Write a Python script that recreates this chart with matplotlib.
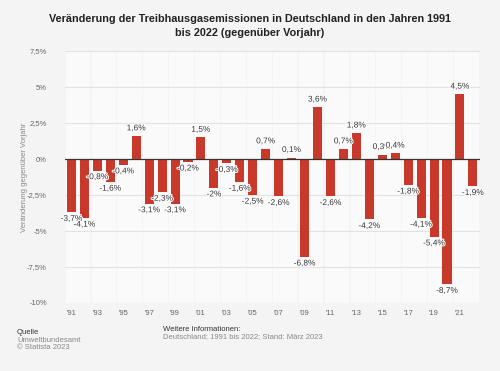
import matplotlib
matplotlib.use("Agg")
import matplotlib.pyplot as plt
import matplotlib.patheffects as pe
import numpy as np

plt.rcParams['font.family'] = ['Liberation Sans', 'DejaVu Sans']

years = list(range(1991, 2023))
values = [-3.7, -4.1, -0.8, -1.6, -0.4, 1.6, -3.1, -2.3, -3.1, -0.2,
          1.5, -2.0, -0.3, -1.6, -2.5, 0.7, -2.6, 0.1, -6.8, 3.6,
          -2.6, 0.7, 1.8, -4.2, 0.3, 0.4, -1.8, -4.1, -5.4, -8.7,
          4.5, -1.9]
yticks = [-10, -7.5, -5, -2.5, 0, 2.5, 5, 7.5]
ytick_labels = ["-10%", "-7,5%", "-5%", "-2,5%", "0%", "2,5%", "5%", "7,5%"]
xtick_years = list(range(1991, 2023, 2))
xtick_labels = ["'" + str(y)[2:] for y in xtick_years]

bg = '#f4f4f4'
fig = plt.figure(figsize=(5, 3.71), dpi=100, facecolor=bg)
ax = fig.add_axes([0.13, 0.1833, 0.83, 0.6792])
ax.set_facecolor(bg)

# light vertical bands
for y0 in range(1991, 2023, 2):
    ax.axvspan(y0 - 0.45, y0 + 1.45, color='#fafafa', zorder=0, lw=0)

for t in yticks:
    if t != 0:
        ax.axhline(t, color='#e2e2e2', lw=0.8, zorder=1)

ax.bar(years, values, width=0.7, color='#c9392b', zorder=2)
ax.axhline(0, color='#333333', lw=0.9, zorder=3)

def fmt(v):
    s = ("%.1f" % v).replace('.', ',')
    if s.endswith(',0'):
        s = s[:-2]
    return s + "%"

for x, v in zip(years, values):
    if v >= 0:
        ax.text(x, v + 0.25, fmt(v), ha='center', va='bottom', fontsize=6,
                color='#333333', zorder=4,
                path_effects=[pe.withStroke(linewidth=1.5, foreground='white')])
    else:
        ax.text(x, v - 0.25, fmt(v), ha='center', va='top', fontsize=6,
                color='#333333', zorder=4,
                path_effects=[pe.withStroke(linewidth=1.5, foreground='white')])

ax.set_xlim(1990.5, 2022.55)
ax.set_ylim(-10, 7.5)
ax.set_yticks(yticks)
ax.set_yticklabels(ytick_labels)
ax.set_xticks(xtick_years)
ax.set_xticklabels(xtick_labels)
ax.tick_params(axis='both', length=0, labelsize=5.5, colors='#666666')
ax.tick_params(axis='y', pad=13)
ax.tick_params(axis='x', pad=5)
for s in ax.spines.values():
    s.set_visible(False)
ax.set_ylabel("Veränderung gegenüber Vorjahr", fontsize=5.5, color='#888888')
ax.yaxis.set_label_coords(-0.09, 0.5)

fig.text(0.5, 0.962, "Veränderung der Treibhausgasemissionen in Deutschland in den Jahren 1991\nbis 2022 (gegenüber Vorjahr)",
         ha='center', va='top', fontsize=7.8, fontweight='bold', color='#222222', linespacing=1.55)

fig.text(0.034, 0.105, "Quelle", fontsize=5.5, color='#333333', va='center')
fig.text(0.034, 0.082, "Umweltbundesamt", fontsize=5.5, color='#888888', va='center')
fig.text(0.034, 0.062, "© Statista 2023", fontsize=5.5, color='#888888', va='center')
fig.text(0.326, 0.113, "Weitere Informationen:", fontsize=5.5, color='#333333', va='center')
fig.text(0.326, 0.092, "Deutschland; 1991 bis 2022; Stand: März 2023", fontsize=5.5, color='#888888', va='center')

fig.savefig("out.png", dpi=100, facecolor=bg)
